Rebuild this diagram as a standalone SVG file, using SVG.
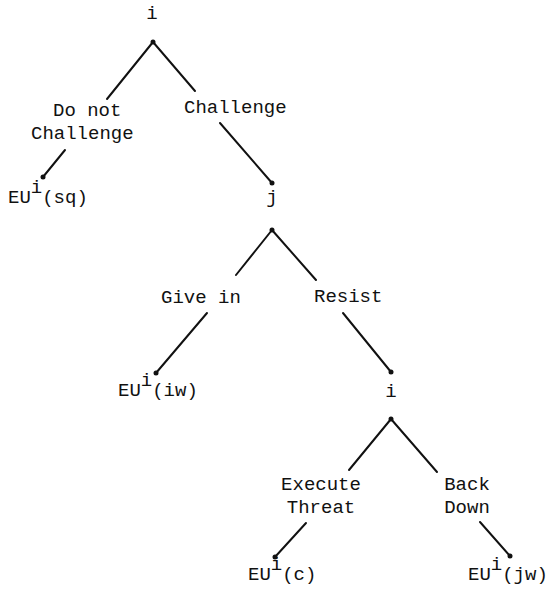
<svg xmlns="http://www.w3.org/2000/svg" width="549" height="591" viewBox="0 0 549 591">
<style>
text{font-family:"Liberation Mono","Courier New",monospace;font-size:19px;fill:#111}
.c{text-anchor:middle}
line{stroke:#111;stroke-width:2;stroke-linecap:round}
circle{fill:#111}
</style>
<rect width="549" height="591" fill="#fff"/>
<g id="connectors">
<line x1="153" y1="42" x2="107" y2="99"/>
<line x1="153" y1="42" x2="195" y2="91"/>
<line x1="65" y1="150" x2="43" y2="177"/>
<line x1="220" y1="123" x2="272" y2="183"/>
<line x1="272" y1="230" x2="236" y2="275"/>
<line x1="272" y1="230" x2="316" y2="280"/>
<line x1="207" y1="313" x2="156" y2="373"/>
<line x1="343" y1="313" x2="391" y2="372"/>
<line x1="391" y1="419" x2="349" y2="470"/>
<line x1="391" y1="419" x2="437" y2="472"/>
<line x1="306" y1="523" x2="275" y2="557"/>
<line x1="480" y1="522" x2="510" y2="556"/>
</g>
<g id="node-root"><text class="c" x="152" y="19">i</text><circle cx="153" cy="42" r="2.5"/></g>
<g id="label-donot"><text x="53" y="116">Do not</text><text x="31" y="139">Challenge</text></g>
<g id="label-challenge"><text x="184" y="113">Challenge</text></g>
<g id="leaf-sq"><circle cx="43" cy="177" r="2.5"/><text x="8" y="203">EU<tspan dy="-10">i</tspan><tspan dy="10">(sq)</tspan></text></g>
<g id="node-j"><circle cx="272" cy="183" r="2.5"/><text class="c" x="272" y="203">j</text><circle cx="272" cy="230" r="2.5"/></g>
<g id="label-givein"><text x="161" y="303">Give in</text></g>
<g id="label-resist"><text x="314" y="302">Resist</text></g>
<g id="leaf-iw"><circle cx="156" cy="373" r="2.5"/><text x="118" y="396">EU<tspan dy="-10">i</tspan><tspan dy="10">(iw)</tspan></text></g>
<g id="node-i2"><circle cx="391" cy="372" r="2.5"/><text class="c" x="391" y="397">i</text><circle cx="391" cy="419" r="2.5"/></g>
<g id="label-execute"><text class="c" x="321" y="490">Execute</text><text class="c" x="321" y="513">Threat</text></g>
<g id="label-backdown"><text class="c" x="467" y="490">Back</text><text class="c" x="467" y="513">Down</text></g>
<g id="leaf-c"><circle cx="275" cy="557" r="2.5"/><text x="248" y="580">EU<tspan dy="-10">i</tspan><tspan dy="10">(c)</tspan></text></g>
<g id="leaf-jw"><circle cx="510" cy="556" r="2.5"/><text x="468" y="580">EU<tspan dy="-10">i</tspan><tspan dy="10">(jw)</tspan></text></g>
</svg>
